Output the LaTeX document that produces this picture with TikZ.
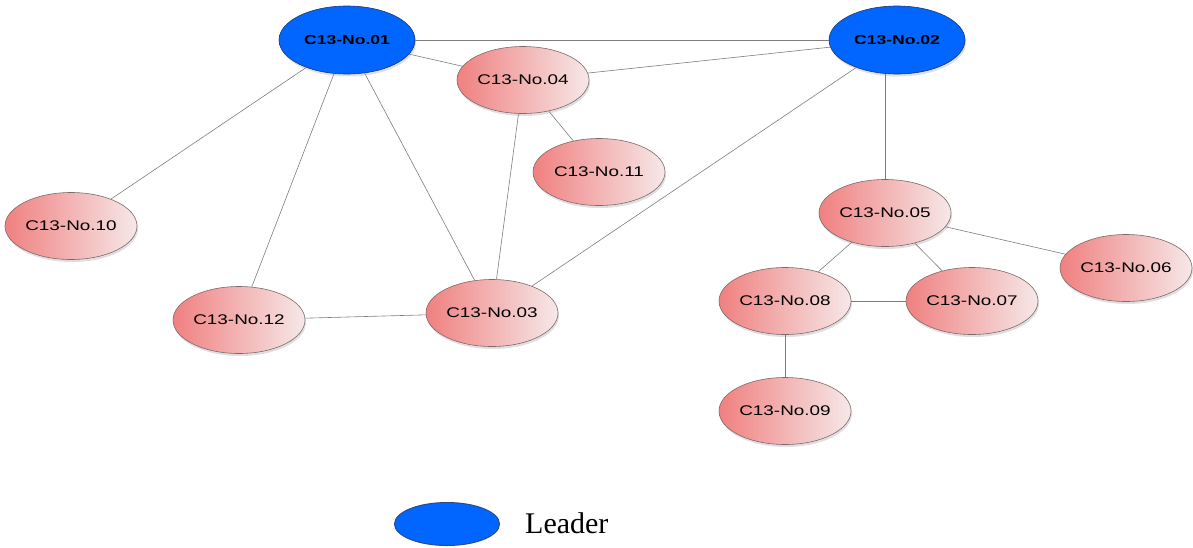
\documentclass[tikz,border=0pt]{standalone}
\usepackage{fontspec}
\setmainfont{Liberation Serif}
\newfontfamily\labelfont{Liberation Sans}
\usetikzlibrary{shapes.geometric,shadows}
\definecolor{leaderblue}{RGB}{0,102,255}
\definecolor{leaderedge}{RGB}{30,55,110}
\definecolor{keyedge}{RGB}{45,75,140}
\definecolor{pinkleft}{RGB}{240,128,128}
\definecolor{pinkright}{RGB}{246,232,232}
\definecolor{nodeedge}{RGB}{125,105,105}
\definecolor{linkgray}{RGB}{125,125,125}
\tikzset{
  member/.style={ellipse, draw=nodeedge, line width=0.6pt,
    minimum width=132pt, minimum height=67pt, inner sep=0pt,
    left color=pinkleft, right color=pinkright,
    drop shadow={opacity=0.25, shadow xshift=1pt, shadow yshift=-2.5pt},
    font=\labelfont\fontsize{14}{16}\selectfont},
  leader/.style={member, draw=leaderedge, left color=leaderblue, right color=leaderblue,
    minimum width=136pt, minimum height=68pt,
    font=\labelfont\bfseries\fontsize{13}{16}\selectfont},
  link/.style={draw=linkgray, line width=0.6pt},
}
\newcommand{\wlab}[1]{\scalebox{1.35}[1]{#1}}
\begin{document}
\begin{tikzpicture}[x=1pt,y=-1pt]
  \useasboundingbox (0,0) rectangle (1193,547);
  % leaders
  \node[leader] (n01) at (347,40) {\wlab{C13-No.01}};
  \node[leader] (n02) at (897,40) {\wlab{C13-No.02}};
  % members
  \node[member] (n04) at (523,80)  {\wlab{C13-No.04}};
  \node[member] (n11) at (599,172) {\wlab{C13-No.11}};
  \node[member] (n10) at (71,226)  {\wlab{C13-No.10}};
  \node[member] (n12) at (239,320) {\wlab{C13-No.12}};
  \node[member] (n03) at (492,313) {\wlab{C13-No.03}};
  \node[member] (n05) at (885,213) {\wlab{C13-No.05}};
  \node[member] (n06) at (1126,268){\wlab{C13-No.06}};
  \node[member] (n08) at (785,301) {\wlab{C13-No.08}};
  \node[member] (n07) at (972,301) {\wlab{C13-No.07}};
  \node[member] (n09) at (785,411) {\wlab{C13-No.09}};
  % links
  \path[link] (n01) -- (n02);
  \path[link] (n01) -- (n04);
  \path[link] (n02) -- (n04);
  \path[link] (n04) -- (n11);
  \path[link] (n01) -- (n10);
  \path[link] (n01) -- (n12);
  \path[link] (n01) -- (n03);
  \path[link] (n04) -- (n03);
  \path[link] (n02) -- (n03);
  \path[link] (n12) -- (n03);
  \path[link] (n02.south -| n05.north) -- (n05.north);
  \path[link] (n05) -- (n06);
  \path[link] (n05) -- (n08);
  \path[link] (n05) -- (n07);
  \path[link] (n08) -- (n07);
  \path[link] (n08) -- (n09);
  % legend
  \node[ellipse, fill=leaderblue, draw=keyedge, line width=1pt,
        minimum width=105pt, minimum height=43pt] (key) at (447,524) {};
  \node[anchor=west, font=\fontsize{30}{34}\selectfont, inner sep=0pt] (keytext) at (525,523) {Leader};
\end{tikzpicture}
\end{document}
